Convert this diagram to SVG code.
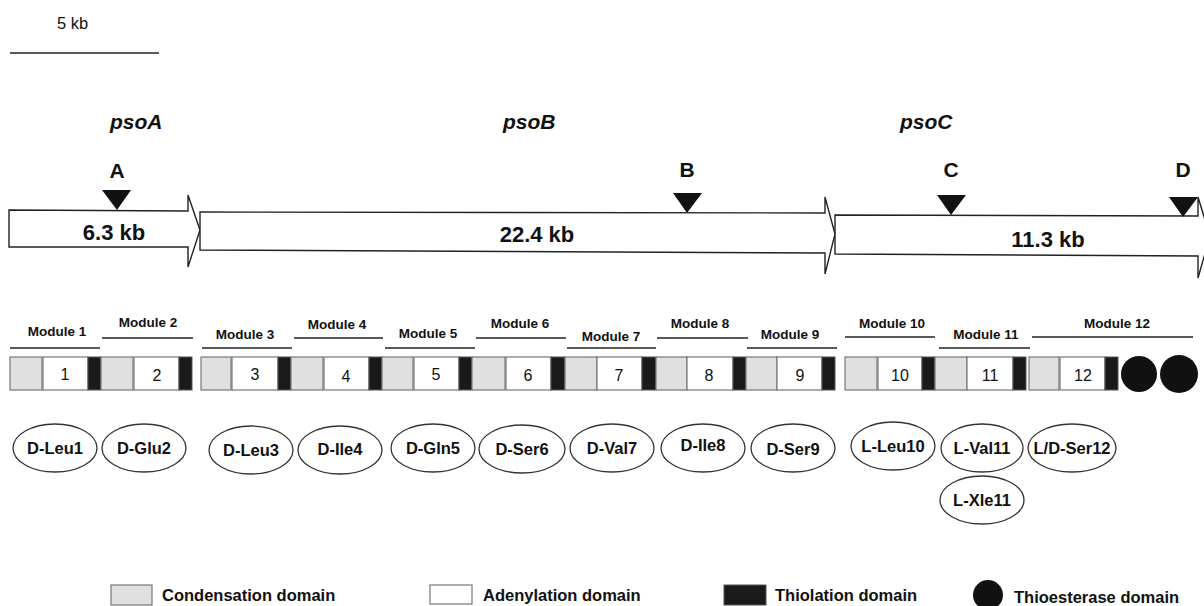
<svg xmlns="http://www.w3.org/2000/svg" width="1204" height="606" viewBox="0 0 1204 606">
<style>
text{font-family:"Liberation Sans",Arial,sans-serif;fill:#111}
.gene{font-weight:bold;font-style:italic;font-size:21px}
.kb{font-weight:bold;font-size:22px;text-anchor:middle}
.lab{font-weight:bold;font-size:21px;text-anchor:middle}
.mod{font-weight:bold;font-size:13.5px;text-anchor:middle}
.num{font-size:16px;text-anchor:middle}
.sub{font-weight:bold;font-size:16.5px;text-anchor:middle}
.leg{font-weight:bold;font-size:16.5px}
.arrow{fill:#fff;stroke:#222;stroke-width:1.4;stroke-linejoin:miter}
.tri{fill:#111}
.ul{stroke:#222;stroke-width:1.4}
.C{fill:#e0e0e0;stroke:#777;stroke-width:1.2}
.A{fill:#fff;stroke:#777;stroke-width:1.2}
.T{fill:#1a1a1a;stroke:#555;stroke-width:1}
.TE{fill:#111}
.ell{fill:#fff;stroke:#333;stroke-width:1.3}
</style>

<g id="scalebar">
<text x="57" y="29" style="font-size:16.5px">5 kb</text>
<line x1="10" y1="53" x2="159" y2="53" stroke="#222" stroke-width="1.5"/>
</g>

<g id="gene-labels">
<text class="gene" x="110" y="129">psoA</text>
<text class="gene" x="503" y="129">psoB</text>
<text class="gene" x="900" y="129">psoC</text>
</g>

<g id="genes">
<g id="psoA-arrow">
<polygon class="arrow" points="9,210 188,211 188,195 200,230 188,267 188,247 9,247"/>
<text class="kb" x="114" y="240">6.3 kb</text>
</g>
<g id="psoB-arrow">
<polygon class="arrow" points="200,212 825,213 825,197 835,234 825,274 825,253 200,250"/>
<text class="kb" x="537" y="242">22.4 kb</text>
</g>
<g id="psoC-arrow">
<polygon class="arrow" points="835,215 1198,216 1198,197 1210,236 1198,278 1198,256 835,254"/>
<text class="kb" x="1048" y="247">11.3 kb</text>
</g>
</g>

<g id="sites">
<g id="site-A"><text class="lab" x="117" y="178">A</text><polygon class="tri" points="102,190 131,190 117,210"/></g>
<g id="site-B"><text class="lab" x="687" y="177">B</text><polygon class="tri" points="673,193 702,193 687,213"/></g>
<g id="site-C"><text class="lab" x="951" y="177">C</text><polygon class="tri" points="937,195 966,195 951,215"/></g>
<g id="site-D"><text class="lab" x="1183" y="177">D</text><polygon class="tri" points="1169,197 1198,197 1183,217"/></g>
</g>

<g id="modules">
<g id="module1"><text class="mod" x="57" y="336">Module 1</text><line class="ul" x1="10" y1="348" x2="100" y2="348"/>
<rect class="C" x="10" y="357" width="32" height="33"/><rect class="A" x="43" y="357" width="45" height="33"/><rect class="T" x="88" y="357" width="13" height="33"/><text class="num" x="65" y="380">1</text></g>
<g id="module2"><text class="mod" x="148" y="327">Module 2</text><line class="ul" x1="102" y1="338" x2="193" y2="338"/>
<rect class="C" x="101" y="357" width="32" height="33"/><rect class="A" x="134" y="357" width="45" height="33"/><rect class="T" x="179" y="357" width="13" height="33"/><text class="num" x="157" y="381">2</text></g>
<g id="module3"><text class="mod" x="245" y="339">Module 3</text><line class="ul" x1="202" y1="348" x2="292" y2="348"/>
<rect class="C" x="201" y="357" width="30" height="33"/><rect class="A" x="232" y="357" width="46" height="33"/><rect class="T" x="278" y="357" width="13" height="33"/><text class="num" x="255" y="380">3</text></g>
<g id="module4"><text class="mod" x="337" y="329">Module 4</text><line class="ul" x1="294" y1="338" x2="383" y2="338"/>
<rect class="C" x="291" y="357" width="32" height="33"/><rect class="A" x="324" y="357" width="45" height="33"/><rect class="T" x="369" y="357" width="13" height="33"/><text class="num" x="346" y="382">4</text></g>
<g id="module5"><text class="mod" x="428" y="338">Module 5</text><line class="ul" x1="385" y1="348" x2="475" y2="348"/>
<rect class="C" x="382" y="357" width="31" height="33"/><rect class="A" x="414" y="357" width="45" height="33"/><rect class="T" x="459" y="357" width="13" height="33"/><text class="num" x="436" y="380">5</text></g>
<g id="module6"><text class="mod" x="520" y="328">Module 6</text><line class="ul" x1="476" y1="338" x2="566" y2="338"/>
<rect class="C" x="472" y="357" width="33" height="33"/><rect class="A" x="506" y="357" width="45" height="33"/><rect class="T" x="551" y="357" width="14" height="33"/><text class="num" x="528" y="381">6</text></g>
<g id="module7"><text class="mod" x="611" y="341">Module 7</text><line class="ul" x1="567" y1="348" x2="656" y2="348"/>
<rect class="C" x="565" y="357" width="32" height="33"/><rect class="A" x="597" y="357" width="45" height="33"/><rect class="T" x="642" y="357" width="14" height="33"/><text class="num" x="619" y="381">7</text></g>
<g id="module8"><text class="mod" x="700" y="328">Module 8</text><line class="ul" x1="657" y1="338" x2="748" y2="338"/>
<rect class="C" x="656" y="357" width="31" height="33"/><rect class="A" x="687" y="357" width="46" height="33"/><rect class="T" x="733" y="357" width="13" height="33"/><text class="num" x="709" y="381">8</text></g>
<g id="module9"><text class="mod" x="790" y="339">Module 9</text><line class="ul" x1="747" y1="348" x2="837" y2="348"/>
<rect class="C" x="746" y="357" width="31" height="33"/><rect class="A" x="777" y="357" width="45" height="33"/><rect class="T" x="822" y="357" width="13" height="33"/><text class="num" x="800" y="381">9</text></g>
<g id="module10"><text class="mod" x="892" y="328">Module 10</text><line class="ul" x1="845" y1="337" x2="935" y2="337"/>
<rect class="C" x="845" y="357" width="32" height="33"/><rect class="A" x="878" y="357" width="44" height="33"/><rect class="T" x="922" y="357" width="13" height="33"/><text class="num" x="900" y="381">10</text></g>
<g id="module11"><text class="mod" x="986" y="339">Module 11</text><line class="ul" x1="939" y1="348" x2="1030" y2="348"/>
<rect class="C" x="935" y="357" width="32" height="33"/><rect class="A" x="967" y="357" width="46" height="33"/><rect class="T" x="1013" y="357" width="13" height="33"/><text class="num" x="990" y="381">11</text></g>
<g id="module12"><text class="mod" x="1117" y="328">Module 12</text><line class="ul" x1="1032" y1="337" x2="1193" y2="337"/>
<rect class="C" x="1029" y="357" width="30" height="33"/><rect class="A" x="1060" y="357" width="45" height="33"/><rect class="T" x="1105" y="357" width="13" height="33"/><text class="num" x="1083" y="381">12</text>
<circle class="TE" cx="1139" cy="374" r="18"/><circle class="TE" cx="1179" cy="374" r="19"/></g>
</g>

<g id="substrates">
<g id="s1"><ellipse class="ell" cx="55" cy="448" rx="42" ry="24"/><text class="sub" x="55" y="454">D-Leu1</text></g>
<g id="s2"><ellipse class="ell" cx="144" cy="448" rx="42" ry="24"/><text class="sub" x="144" y="454">D-Glu2</text></g>
<g id="s3"><ellipse class="ell" cx="251" cy="450" rx="42" ry="24"/><text class="sub" x="251" y="456">D-Leu3</text></g>
<g id="s4"><ellipse class="ell" cx="340" cy="450" rx="42" ry="24"/><text class="sub" x="340" y="455">D-Ile4</text></g>
<g id="s5"><ellipse class="ell" cx="433" cy="448" rx="42" ry="24"/><text class="sub" x="433" y="454">D-Gln5</text></g>
<g id="s6"><ellipse class="ell" cx="522" cy="449" rx="43" ry="24"/><text class="sub" x="522" y="455">D-Ser6</text></g>
<g id="s7"><ellipse class="ell" cx="612" cy="448" rx="42" ry="24"/><text class="sub" x="612" y="454">D-Val7</text></g>
<g id="s8"><ellipse class="ell" cx="703" cy="448" rx="42" ry="24"/><text class="sub" x="703" y="451">D-Ile8</text></g>
<g id="s9"><ellipse class="ell" cx="793" cy="448" rx="42" ry="24"/><text class="sub" x="793" y="455">D-Ser9</text></g>
<g id="s10"><ellipse class="ell" cx="893" cy="446" rx="42" ry="24"/><text class="sub" x="893" y="452">L-Leu10</text></g>
<g id="s11"><ellipse class="ell" cx="982" cy="448" rx="41" ry="24"/><text class="sub" x="982" y="454">L-Val11</text></g>
<g id="s12"><ellipse class="ell" cx="1072" cy="448" rx="44" ry="24"/><text class="sub" x="1072" y="454">L/D-Ser12</text></g>
<g id="s11b"><ellipse class="ell" cx="982" cy="500" rx="42" ry="24"/><text class="sub" x="982" y="506">L-Xle11</text></g>
</g>

<g id="connectors"></g>

<g id="legend">
<g id="leg-C"><rect class="C" x="111" y="585" width="41" height="20"/><text class="leg" x="162" y="601">Condensation domain</text></g>
<g id="leg-A"><rect class="A" x="430" y="585" width="42" height="19"/><text class="leg" x="483" y="601">Adenylation domain</text></g>
<g id="leg-T"><rect class="T" x="724" y="585" width="42" height="20"/><text class="leg" x="775" y="601">Thiolation domain</text></g>
<g id="leg-TE"><circle class="TE" cx="988" cy="595" r="15"/><text class="leg" x="1014" y="603">Thioesterase domain</text></g>
</g>
</svg>
